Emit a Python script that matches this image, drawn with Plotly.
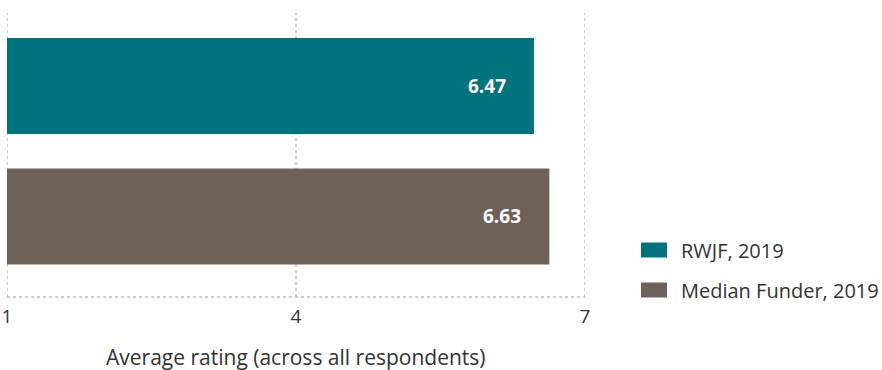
import plotly.graph_objects as go

# Average rating per group
categories = ["RWJF, 2019", "Median Funder, 2019"]
values = [6.47, 6.63]
colors = ["#00737F", "#6E6258"]
tick_vals = [1, 4, 7]
axis_title = "Average rating (across all respondents)"

FONT = "Open Sans, sans-serif"
GRID = "#9a9a9a"
TEXT = "#333333"
positions = list(range(len(categories)))

# plot-area geometry in pixels (used for paper-coordinate placement)
PLOT_L, PLOT_R, PLOT_T, PLOT_B = 7, 585, 13, 297
PW, PH = PLOT_R - PLOT_L, PLOT_B - PLOT_T


def px_x(x):
    return (x - PLOT_L) / PW


def px_y(y):
    return 1 - (y - PLOT_T) / PH


fig = go.Figure()

# dotted vertical gridlines at each tick, drawn beneath the bars
for t in tick_vals:
    fig.add_shape(type="line", xref="x", yref="paper", x0=t, x1=t, y0=0, y1=1,
                  line=dict(color=GRID, width=1, dash="dot"), layer="below")

for i, (cat, val, col) in enumerate(zip(categories, values, colors)):
    fig.add_trace(go.Bar(
        y=[positions[i]], x=[val], orientation="h",
        marker=dict(color=col, line=dict(width=0)),
        width=0.736, name=cat, showlegend=False, hoverinfo="skip",
    ))
    # value label inside the bar end
    fig.add_annotation(
        x=val, y=positions[i], xref="x", yref="y",
        text=f"<b>{val:.2f}</b>", showarrow=False,
        xanchor="right", xshift=-26,
        font=dict(family=FONT, size=19, color="white"),
    )

# dotted baseline along the bottom of the plot
fig.add_shape(type="line", xref="x", yref="paper", x0=1, x1=7, y0=0, y1=0,
              line=dict(color=GRID, width=1, dash="dot"), layer="above")

# custom legend: swatch + label
for i, (cat, col) in enumerate(zip(categories, colors)):
    yc = 250 + 40 * i  # pixel centre of legend row
    fig.add_shape(type="rect", xref="paper", yref="paper",
                  x0=px_x(641), x1=px_x(667),
                  y0=px_y(yc + 7.5), y1=px_y(yc - 7.5),
                  fillcolor=col, line=dict(width=0))
    fig.add_annotation(
        x=px_x(679), y=px_y(yc), xref="paper", yref="paper",
        text=cat, showarrow=False, xanchor="left", yanchor="middle",
        font=dict(family=FONT, size=20, color=TEXT),
    )

# axis title, centred under the x axis
fig.add_annotation(
    x=px_x(296), y=px_y(357), xref="paper", yref="paper",
    text=axis_title, showarrow=False, xanchor="center", yanchor="middle",
    font=dict(family=FONT, size=21, color=TEXT),
)

fig.update_layout(
    width=882, height=370,
    margin=dict(l=PLOT_L, r=882 - PLOT_R, t=PLOT_T, b=370 - PLOT_B),
    paper_bgcolor="white", plot_bgcolor="white",
    barmode="overlay",
    font=dict(family=FONT, color=TEXT),
    xaxis=dict(
        range=[1, 7], tickvals=tick_vals, ticktext=[str(t) for t in tick_vals],
        showgrid=False, zeroline=False, showline=False, ticks="",
        automargin=False, ticklabelstandoff=6,
        tickfont=dict(family=FONT, size=19, color=TEXT),
    ),
    yaxis=dict(
        range=[1.617, -0.559], showticklabels=False, showgrid=False,
        zeroline=False, showline=False, ticks="", automargin=False,
    ),
)

fig.write_html("out.html")
